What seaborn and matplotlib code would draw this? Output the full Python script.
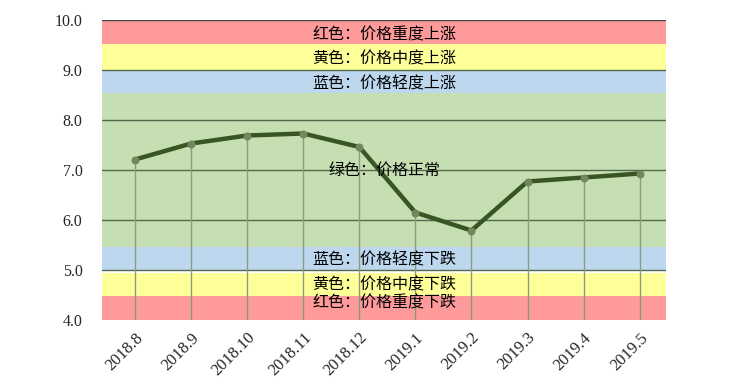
import matplotlib
matplotlib.use("Agg")
import matplotlib.pyplot as plt
import seaborn as sns
import pandas as pd

months = ["2018.8", "2018.9", "2018.10", "2018.11", "2018.12",
          "2019.1", "2019.2", "2019.3", "2019.4", "2019.5"]
values = [7.21, 7.53, 7.69, 7.73, 7.46, 6.15, 5.79, 6.77, 6.85, 6.93]

band_labels = ["红色：价格重度上涨", "黄色：价格中度上涨", "蓝色：价格轻度上涨",
               "绿色：价格正常",
               "蓝色：价格轻度下跌", "黄色：价格中度下跌", "红色：价格重度下跌"]
band_lows = [9.52, 9.0, 8.54, 5.46, 4.98, 4.48, 3.96]
band_highs = [10.0, 9.52, 9.0, 8.54, 5.46, 4.95, 4.48]
band_colors = ["#FF9A9A", "#FFFF99", "#BDD7EE", "#C5DFB3", "#BDD7EE", "#FFFF99", "#FF9A9A"]
label_y = [9.70, 9.22, 8.73, 7.0, 5.2, 4.70, 4.34]

yticks = [4.0, 5.0, 6.0, 7.0, 8.0, 9.0, 10.0]

sns.set_style("white")
plt.rcParams['font.family'] = ['Noto Sans CJK SC', 'DejaVu Sans']

fig = plt.figure(figsize=(7.5, 3.89), dpi=100)
ax = fig.add_axes([102/750, 1-320/389, (666-102)/750, 300/389])

df = pd.DataFrame({"x": list(range(len(months))), "v": values})
xmin, xmax = -0.59, 9.47

for lo, hi, c in zip(band_lows, band_highs, band_colors):
    ax.axhspan(lo, hi, xmin=0, xmax=1, color=c, lw=0, zorder=0)

for yv in [5, 6, 7, 8, 9]:
    ax.axhline(yv, color="#55684A", lw=1.0, zorder=1)
ax.axhline(10, color="#444444", lw=1.0, zorder=1)

ax.vlines(df["x"], 3.96, df["v"], color="#8A9A7E", lw=1.0, zorder=2)

sns.lineplot(data=df, x="x", y="v", ax=ax, color="#375623", lw=3.2, zorder=3,
             marker="o", markersize=5, markerfacecolor="#74865F",
             markeredgecolor="#74865F")

for t, yv in zip(band_labels, label_y):
    ax.text(4.45, yv, t, ha="center", va="center", fontsize=11.5, color="black",
            fontweight="medium", zorder=4)

ax.set_xlim(xmin, xmax)
ax.set_ylim(4, 10)
ax.set_yticks(yticks)
ax.set_yticklabels([f"{v:.1f}" for v in yticks], fontsize=11.5, family="Liberation Serif")
ax.set_xticks(df["x"])
ax.set_xticklabels(months, rotation=45, ha="right", va="top", rotation_mode="anchor",
                   fontsize=12, family="Liberation Serif")
ax.tick_params(axis="both", length=0)
ax.tick_params(axis="y", pad=14)
ax.tick_params(axis="x", pad=7)
ax.set_xlabel("")
ax.set_ylabel("")
for s in ax.spines.values():
    s.set_visible(False)

fig.savefig("out.png", dpi=100)
